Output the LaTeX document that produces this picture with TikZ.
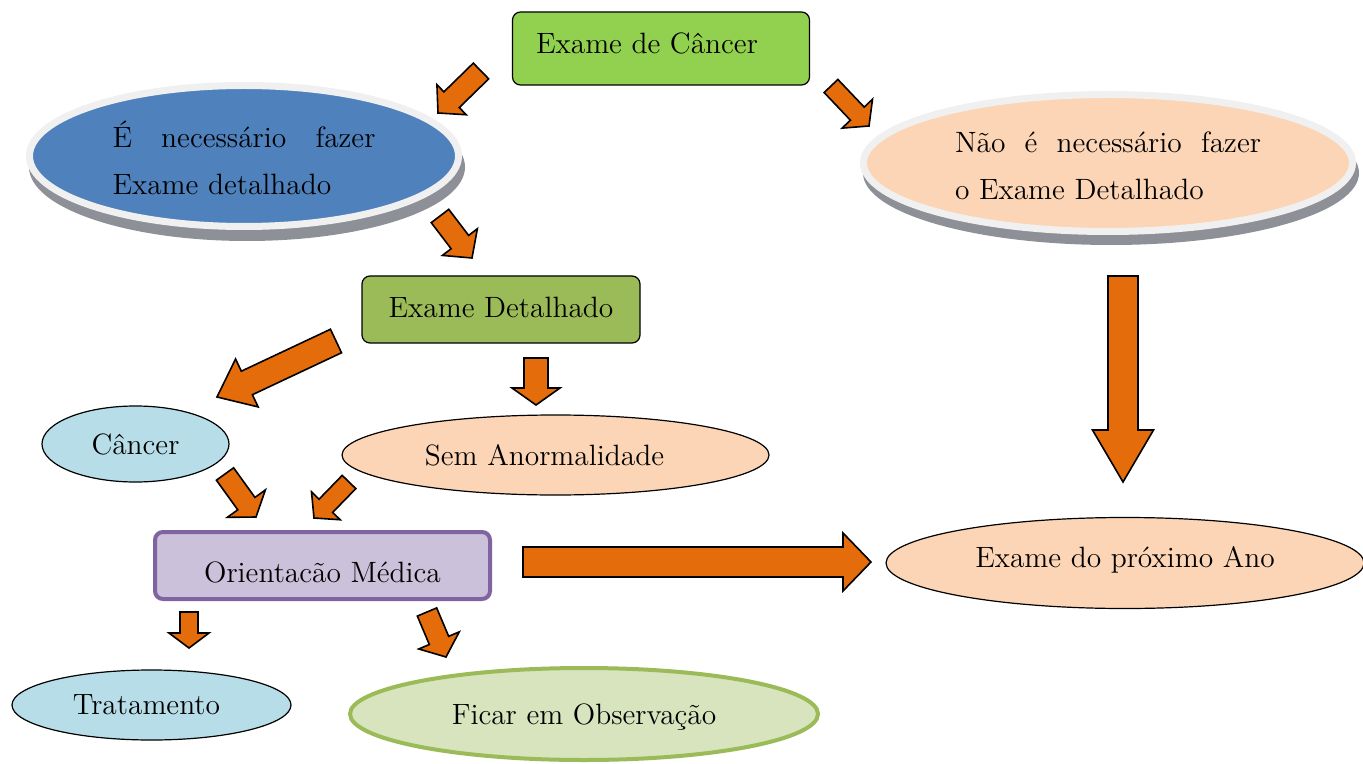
\documentclass[tikz,border=0pt]{standalone}
\usepackage{fontspec}
\usetikzlibrary{shapes.geometric,calc}
\definecolor{topgreen}{HTML}{92D050}
\definecolor{detgreen}{HTML}{9BBB59}
\definecolor{blueF}{HTML}{4F81BD}
\definecolor{peach}{HTML}{FBD5B5}
\definecolor{lblue}{HTML}{B7DEE8}
\definecolor{lav}{HTML}{CCC1DA}
\definecolor{lavborder}{HTML}{8064A2}
\definecolor{lgreen}{HTML}{D7E4BD}
\definecolor{arrorange}{HTML}{E46C0A}
\definecolor{rimgray}{HTML}{F0F0F0}
\definecolor{shadowgray}{HTML}{8D9096}
\newcommand\blockarr[5]{%
  \coordinate (#1-n) at ($(#2)!#5!(#1)$);
  \draw[barrowst] ($(#1)!#3!90:(#2)$) -- ($(#1-n)!#3!90:(#2)$) -- ($(#1-n)!#4!90:(#2)$) -- (#2)
    -- ($(#1-n)!#4!-90:(#2)$) -- ($(#1-n)!#3!-90:(#2)$) -- ($(#1)!#3!-90:(#2)$) -- cycle;}
\newcommand\shifttxt[2]{\raisebox{#1}[\height][\depth]{#2}}
\tikzset{
  every node/.style={font=\fontsize{14.7pt}{23.5pt}\selectfont, inner sep=0pt},
  rbox/.style={rectangle, rounded corners=4pt, draw=black, line width=0.6pt},
  ell/.style={ellipse, draw=black, line width=0.6pt},
  bigell/.style={ellipse, draw=rimgray, line width=3.5pt},
  barrowst/.style={fill=arrorange, draw=black, line width=0.8pt, line join=miter},
}
\begin{document}
\begin{tikzpicture}[x=0.5pt,y=-0.5pt]
\useasboundingbox (0,0) rectangle (1363,764);
% shadows of the two big ellipses
\fill[shadowgray] (247,167) ellipse [x radius=109pt, y radius=37pt];
\fill[shadowgray] (1111,173) ellipse [x radius=124pt, y radius=36pt];
% nodes
\node[rbox, fill=topgreen, minimum width=148.5pt, minimum height=36.5pt] (top) at (661,48.5)
  {\shifttxt{2.5pt}{Exame de Câncer\hspace*{14pt}}};
\node[bigell, fill=blueF, minimum width=214.5pt, minimum height=70.5pt] (nec) at (244,156)
  {\shifttxt{-3pt}{\begin{tabular}{@{}l@{}}\makebox[131.5pt][s]{É necessário fazer}\\Exame detalhado\end{tabular}}};
\node[bigell, fill=peach, minimum width=244.5pt, minimum height=68.5pt] (nao) at (1108,163)
  {\shifttxt{-2pt}{\begin{tabular}{@{}l@{}}\makebox[153pt][s]{Não é necessário fazer}\\o Exame Detalhado\end{tabular}}};
\node[rbox, fill=detgreen, minimum width=139pt, minimum height=33.5pt] (det) at (501,309.5)
  {\shifttxt{1pt}{Exame Detalhado}};
\node[ell, fill=lblue, minimum width=93.5pt, minimum height=38pt] (canc) at (135.5,444) {Câncer};
\node[ell, fill=peach, minimum width=213.5pt, minimum height=40pt] (sem) at (555.5,455) {Sem Anormalidade\hspace*{11pt}};
\node[rbox, fill=lav, draw=lavborder, line width=2pt, minimum width=167.5pt, minimum height=33.5pt] (ori) at (322.5,565.5)
  {\shifttxt{-3.5pt}{Orientacão Médica}};
\node[ell, fill=peach, minimum width=239pt, minimum height=45.5pt] (prox) at (1125,563) {\shifttxt{1.5pt}{Exame do próximo Ano}};
\node[ell, fill=lblue, minimum width=139.5pt, minimum height=35pt] (trat) at (151.5,705) {\hspace*{-5pt}Tratamento};
\node[ellipse, fill=lgreen, draw=detgreen, line width=2pt, minimum width=234pt, minimum height=46pt] (obs) at (584,714)
  {\shifttxt{-1.5pt}{Ficar em Observação}};
% block arrows (tail and tip coordinates)
\coordinate (a1) at (481,71);   \coordinate (b1) at (438,113);
\coordinate (a2) at (440,216);  \coordinate (b2) at (472,258);
\coordinate (a3) at (831,86);   \coordinate (b3) at (869,126);
\coordinate (a4) at (1123,276); \coordinate (b4) at (1123,482);
\coordinate (a5) at (336,341);  \coordinate (b5) at (217,397);
\coordinate (a6) at (536,358);  \coordinate (b6) at (536,405);
\coordinate (a7) at (225,474);  \coordinate (b7) at (256,517);
\coordinate (a8) at (349,482);  \coordinate (b8) at (314,518);
\coordinate (a9) at (523,562);  \coordinate (b9) at (871,562);
\coordinate (a10) at (189,612); \coordinate (b10) at (189,648);
\coordinate (a11) at (427,612); \coordinate (b11) at (446,657);
\blockarr{a1}{b1}{5.5pt}{10.5pt}{9.5pt}
\blockarr{a2}{b2}{5.5pt}{11pt}{10pt}
\blockarr{a3}{b3}{4.75pt}{10.5pt}{8.5pt}
\blockarr{a4}{b4}{7.5pt}{15.25pt}{26pt}
\blockarr{a5}{b5}{6.5pt}{13.25pt}{16.5pt}
\blockarr{a6}{b6}{6pt}{12pt}{8.5pt}
\blockarr{a7}{b7}{5.3pt}{11.75pt}{8.25pt}
\blockarr{a8}{b8}{4.75pt}{10pt}{8.5pt}
\blockarr{a9}{b9}{7.5pt}{14.5pt}{14pt}
\blockarr{a10}{b10}{4.5pt}{10pt}{7.5pt}
\blockarr{a11}{b11}{5.25pt}{11pt}{9pt}
\end{tikzpicture}
\end{document}
